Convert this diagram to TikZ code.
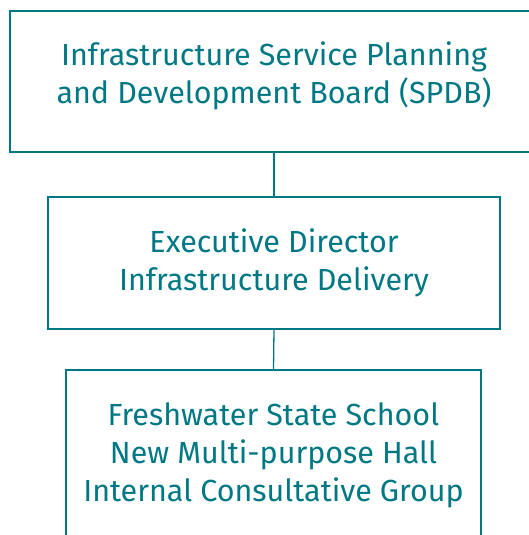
\documentclass[tikz,border=0pt]{standalone}
\usepackage{fontspec}
\setmainfont{Fira Sans}
\usepackage{xcolor}
\definecolor{orgteal}{RGB}{0, 120, 132}

\tikzset{
    orgbox/.style={draw=orgteal, line width=1.3pt, rectangle, inner sep=0pt, align=center,
        text=orgteal, font=\fontsize{30.5}{38}\selectfont},
    orgtext/.style={inner sep=0pt, align=center, text=orgteal, font=\fontsize{30.5}{38}\selectfont},
    orglink/.style={draw=orgteal, line width=1.3pt}
}

\begin{document}
\begin{tikzpicture}[x=1pt, y=-1pt]

    \useasboundingbox (0,0) rectangle (529,535); % page frame

    % the three levels, top to bottom
    \node[orgbox, minimum width=528pt, minimum height=141pt] (spdb) at (274,81.5) {};
    \node[orgtext] (spdbtext) at ([yshift=6pt]spdb.center)
        {Infrastructure Service Planning\\and Development Board (SPDB)}; % sits a bit high in its box
    \node[orgbox, minimum width=452pt, minimum height=132pt] (director) at (274,263)
        {Executive Director\\Infrastructure Delivery};
    \node[orgbox, minimum width=415pt, minimum height=170pt] (group) at (273.5,455)
        {Freshwater State School\\New Multi-purpose Hall\\Internal Consultative Group};

    % vertical links between the levels
    \draw[orglink] (spdb.south) -- (director.north);
    \draw[orglink] (director.south) -- (group.north);

\end{tikzpicture}
\end{document}
